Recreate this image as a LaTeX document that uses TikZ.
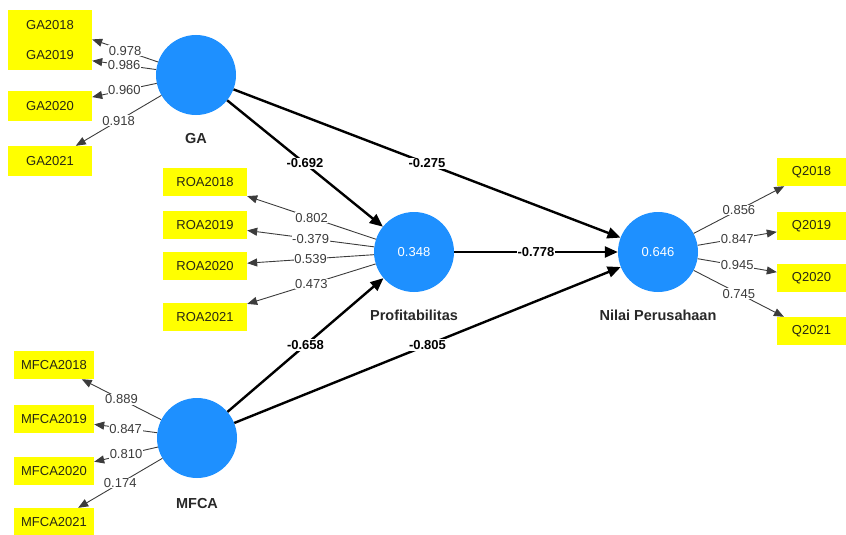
\documentclass[tikz,border=0pt]{standalone}
\usepackage{fontspec}
\setmainfont{Liberation Sans}
\usepackage{tikz}
\usetikzlibrary{arrows.meta,positioning}

\begin{document}
\begin{tikzpicture}[x=1pt,y=-1pt,
  >={Triangle[length=10pt,width=8pt]},
  lv/.style={circle,fill=lvColor,minimum size=80pt,inner sep=0pt,text=white,font=\fontsize{13}{15}\selectfont},
  lvname/.style={inner sep=0pt,text=nameColor,font=\bfseries\fontsize{14.5}{17}\selectfont},
  ind/.style={fill=indColor,minimum height=28pt,inner sep=0pt,text=indText,font=\fontsize{13}{15}\selectfont},
  load/.style={->,draw=loadColor,line width=0.9pt},
  lval/.style={fill=white,inner sep=0.6pt,text=valColor,font=\fontsize{13}{15}\selectfont},
  coef/.style={->,>={Triangle[length=13pt,width=11pt]},line width=2.4pt},
  cval/.style={fill=white,inner sep=1pt,font=\bfseries\fontsize{13}{15}\selectfont}]
\useasboundingbox (0,0) rectangle (846,535);
\definecolor{lvColor}{RGB}{30,144,255}
\definecolor{indColor}{RGB}{255,255,0}
\definecolor{indText}{RGB}{40,40,20}
\definecolor{loadColor}{RGB}{60,60,60}
\definecolor{valColor}{RGB}{60,60,60}
\definecolor{nameColor}{RGB}{40,40,40}
\node[lv] (GA) at (196,75) {};
\node[lv] (Prof) at (414,252) {0.348};
\node[lv] (Nilai) at (658,252) {0.646};
\node[lv] (MFCA) at (197,438) {};
\node[lvname,below=18pt of GA] (GAname) {GA};
\node[lvname,below=18pt of Prof] (Profname) {Profitabilitas};
\node[lvname,below=18pt of Nilai] (Nilainame) {Nilai Perusahaan};
\node[lvname,below=20pt of MFCA] (MFCAname) {MFCA};
\draw[coef] (GA) -- node[cval] {-0.692} (Prof);
\draw[coef] (GA) -- node[cval] {-0.275} (Nilai);
\draw[coef] (Prof) -- node[cval] {-0.778} (Nilai);
\draw[coef] (MFCA) -- node[cval] {-0.658} (Prof);
\draw[coef] (MFCA) -- node[cval] {-0.805} (Nilai);
\foreach \yr/\y/\w in {2018/25/0.978,2019/55/0.986,2020/106/0.960,2021/161/0.918}{
  \node[ind,minimum width=84pt,minimum height=30pt] (GA\yr) at (50,\y) {GA\yr};
  \draw[load] (GA) -- node[lval] {\w} (GA\yr);
}
\foreach \yr/\y/\w in {2018/182/0.802,2019/225/-0.379,2020/266/0.539,2021/317/0.473}{
  \node[ind,minimum width=84pt] (ROA\yr) at (205,\y) {ROA\yr};
  \draw[load] (Prof) -- node[lval] {\w} (ROA\yr);
}
\foreach \yr/\y/\w in {2018/365/0.889,2019/419/0.847,2020/471/0.810,2021/522/0.174}{
  \node[ind,minimum width=80pt] (MFCA\yr) at (54,\y) {MFCA\yr};
  \draw[load] (MFCA) -- node[lval] {\w} (MFCA\yr);
}
\foreach \yr/\y/\w in {2018/172/0.856,2019/226/0.847,2020/278/0.945,2021/331/0.745}{
  \node[ind,minimum width=69pt] (Q\yr) at (811.5,\y) {Q\yr};
  \draw[load] (Nilai) -- node[lval] {\w} (Q\yr);
}
\end{tikzpicture}
\end{document}
